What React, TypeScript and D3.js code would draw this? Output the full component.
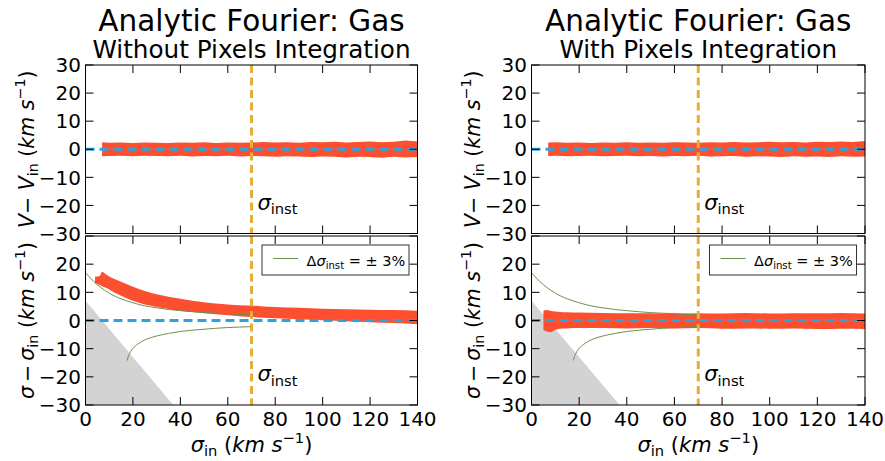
import React from "react";
import * as d3 from "d3";

// ---------- data ----------
const mainTitle = "Analytic Fourier: Gas";
const panelTitles = ["Without Pixels Integration", "With Pixels Integration"];
const xTicks = [0, 20, 40, 60, 80, 100, 120, 140];
const yTicks = [30, 20, 10, 0, -10, -20, -30];
const yTickLabelsTop = [30, 20, 10, 0, -10, -20, -30];
const yTickLabelsBottom = [20, 10, 0, -10, -20, -30];
const sigmaInst = 70;

// top panels: V - Vin scatter band (upper / lower edges)
const vBandX = [7, 10, 15, 20, 25, 30, 35, 40, 45, 50, 55, 60, 65, 70, 75, 80, 85, 90, 95, 100, 105, 110, 115, 120, 125, 130, 135, 140];
const vUpperL = [2.5, 2.3, 2.4, 2.2, 2.4, 2.3, 2.2, 2.4, 2.3, 2.5, 2.2, 2.4, 2.3, 2.4, 2.6, 2.4, 2.5, 2.3, 2.6, 2.5, 2.7, 2.4, 2.6, 2.8, 2.5, 2.7, 3.1, 2.8];
const vLowerL = [-2.5, -2.4, -2.3, -2.5, -2.3, -2.4, -2.5, -2.3, -2.6, -2.4, -2.5, -2.3, -2.6, -2.4, -2.5, -2.7, -2.5, -2.6, -2.8, -2.6, -2.7, -2.9, -2.7, -2.8, -3.0, -2.7, -2.9, -2.8];
const vUpperR = [2.4, 2.5, 2.3, 2.4, 2.2, 2.4, 2.3, 2.5, 2.3, 2.4, 2.3, 2.5, 2.4, 2.3, 2.5, 2.4, 2.6, 2.4, 2.5, 2.7, 2.5, 2.6, 2.4, 2.7, 2.6, 2.8, 2.6, 2.9];
const vLowerR = [-2.4, -2.3, -2.5, -2.4, -2.3, -2.5, -2.4, -2.3, -2.5, -2.4, -2.6, -2.4, -2.5, -2.3, -2.6, -2.5, -2.4, -2.7, -2.5, -2.6, -2.8, -2.5, -2.7, -2.6, -2.8, -2.5, -2.7, -2.6];

// bottom panels: sigma - sigma_in scatter band
const sBandXL = [4, 6, 7, 8, 10, 12, 15, 20, 25, 30, 35, 40, 45, 50, 55, 60, 65, 70, 75, 80, 90, 100, 110, 120, 130, 140];
const sUpperL = [15.5, 15.8, 17.3, 16.8, 15.6, 14.8, 13.8, 12.0, 10.5, 9.3, 8.4, 7.7, 7.0, 6.5, 6.0, 5.7, 5.4, 5.3, 5.0, 4.8, 4.5, 4.2, 4.0, 3.8, 3.7, 3.5];
const sLowerL = [13.2, 12.6, 12.2, 11.8, 11.0, 10.0, 8.8, 7.0, 5.7, 4.8, 4.1, 3.5, 3.0, 2.6, 2.2, 1.9, 1.5, 1.2, 1.0, 0.8, 0.4, 0.1, -0.3, -0.6, -0.9, -1.3];
const sBandXR = [5, 6, 8, 10, 12, 15, 20, 30, 40, 50, 60, 70, 80, 90, 100, 110, 120, 130, 140];
const sUpperR = [3.4, 3.7, 3.5, 3.2, 3.0, 2.9, 2.8, 2.7, 2.6, 2.6, 2.5, 2.6, 2.5, 2.7, 2.5, 2.6, 2.6, 2.7, 2.5];
const sLowerR = [-3.3, -3.8, -4.2, -3.3, -2.9, -2.8, -2.7, -2.7, -2.8, -2.7, -2.8, -2.7, -2.9, -2.8, -2.9, -2.8, -3.0, -2.9, -3.0];

// +/- 3% instrumental dispersion curves
const plusX = [0, 2, 5, 8, 10, 15, 20, 25, 30, 35, 40, 50, 60, 70];
const plusY = [17.0, 15.1, 12.7, 10.8, 9.7, 7.7, 6.3, 5.2, 4.5, 3.9, 3.5, 2.8, 2.4, 2.0];
const minusX = [17.6, 18, 18.5, 19, 20, 22, 25, 30, 35, 40, 50, 60, 70];
const minusY = [-14.2, -12.9, -11.9, -11.1, -9.9, -8.4, -6.9, -5.5, -4.6, -3.9, -3.1, -2.5, -2.2];

// grey excluded region
const grayX = [0, 0, 37];
const grayY = [7, -30, -30];

// ---------- style ----------
const C_RED = "#fc4f30";
const C_BLUE = "#30a2da";
const C_ORANGE = "#e5ae38";
const C_GREEN = "#6d904f";
const C_GRAY = "#d3d3d3";
const FONT = "DejaVu Sans";
const THIN = "\u2009";

type Seg = { t: string; it?: boolean; sub?: boolean; sup?: boolean };

function MathText(props: { x: number; y: number; fs: number; segs: Seg[]; anchor?: string; transform?: string }) {
  const { x, y, fs, segs, anchor, transform } = props;
  let shift = 0;
  const spans = segs.map((s, i) => {
    const target = s.sub ? fs * 0.22 : s.sup ? -fs * 0.4 : 0;
    const dy = target - shift;
    shift = target;
    return (
      <tspan key={i} dy={dy} fontStyle={s.it ? "italic" : "normal"} fontSize={s.sub || s.sup ? fs * 0.7 : fs}>
        {s.t}
      </tspan>
    );
  });
  return (
    <text x={x} y={y} fontSize={fs} textAnchor={anchor || "start"} transform={transform} style={{ whiteSpace: "pre" }} fill="#000">
      {spans}
    </text>
  );
}

const unitSegs: Seg[] = [
  { t: " (" },
  { t: "km", it: true },
  { t: " " },
  { t: "s", it: true },
  { t: "−1", sup: true },
  { t: ")" },
];

const panelsX = [
  { x0: 85.5, x1: 417.5 },
  { x0: 531.5, x1: 865 },
];
const topY = { y0: 65, y1: 233.5 };
const botY = { y0: 236, y1: 405 };

function Axes(props: {
  x: d3.ScaleLinear<number, number>;
  y: d3.ScaleLinear<number, number>;
  xLabels: boolean;
  yLabels: number[];
}) {
  const { x, y, xLabels, yLabels } = props;
  const [x0, x1] = x.range();
  const [yb, yt] = y.range();
  const L = 8;
  return (
    <g>
      {xTicks.map((t) => (
        <g key={"xt" + t}>
          <line x1={x(t)} x2={x(t)} y1={yb} y2={yb - L} stroke="#000" strokeWidth={1} />
          <line x1={x(t)} x2={x(t)} y1={yt} y2={yt + L} stroke="#000" strokeWidth={1} />
          {xLabels && (
            <text x={x(t)} y={yb + 21.3} fontSize={20} textAnchor="middle" fill="#000">
              {String(t)}
            </text>
          )}
        </g>
      ))}
      {yTicks.map((t) => (
        <g key={"yt" + t}>
          <line x1={x0} x2={x0 + L} y1={y(t)} y2={y(t)} stroke="#000" strokeWidth={1} />
          <line x1={x1} x2={x1 - L} y1={y(t)} y2={y(t)} stroke="#000" strokeWidth={1} />
        </g>
      ))}
      {yLabels.map((t) => (
        <text key={"yl" + t} x={x0 - 4.5} y={y(t) + 7.2} fontSize={20} textAnchor="end" fill="#000">
          {t < 0 ? "−" + Math.abs(t) : String(t)}
        </text>
      ))}
      <rect x={x0} y={yt} width={x1 - x0} height={yb - yt} fill="none" stroke="#000" strokeWidth={1} />
    </g>
  );
}

function Panel(props: { idx: number }) {
  const { idx } = props;
  const { x0, x1 } = panelsX[idx];
  const x = d3.scaleLinear().domain([0, 140]).range([x0, x1]);
  const yT = d3.scaleLinear().domain([-30, 30]).range([topY.y1, topY.y0]);
  const yB = d3.scaleLinear().domain([-30, 30]).range([botY.y1, botY.y0]);
  const cx = (x0 + x1) / 2;

  const vX = vBandX;
  const vU = idx === 0 ? vUpperL : vUpperR;
  const vL = idx === 0 ? vLowerL : vLowerR;
  const sX = idx === 0 ? sBandXL : sBandXR;
  const sU = idx === 0 ? sUpperL : sUpperR;
  const sL = idx === 0 ? sLowerL : sLowerR;

  const areaT = d3
    .area<number>()
    .x((d, i) => x(vX[i]))
    .y0((d, i) => yT(vL[i]))
    .y1((d, i) => yT(vU[i]))
    .curve(d3.curveLinear);
  const areaB = d3
    .area<number>()
    .x((d, i) => x(sX[i]))
    .y0((d, i) => yB(sL[i]))
    .y1((d, i) => yB(sU[i]))
    .curve(d3.curveMonotoneX);
  const lineB = (xs: number[], ys: number[]) =>
    d3
      .line<number>()
      .x((d, i) => x(xs[i]))
      .y((d, i) => yB(ys[i]))
      .curve(d3.curveMonotoneX)(xs) || "";
  const grayPath =
    d3
      .line<number>()
      .x((d, i) => x(grayX[i]))
      .y((d, i) => yB(grayY[i]))(grayX) + "Z";

  const clipT = "clipT" + idx;
  const clipB = "clipB" + idx;
  const legX = x1 - 155.5;
  const legY = botY.y0 + 9;
  const ylx = x0 - 52;

  return (
    <g>
      <defs>
        <clipPath id={clipT}>
          <rect x={x0} y={topY.y0} width={x1 - x0} height={topY.y1 - topY.y0} />
        </clipPath>
        <clipPath id={clipB}>
          <rect x={x0} y={botY.y0} width={x1 - x0} height={botY.y1 - botY.y0} />
        </clipPath>
      </defs>
      {/* titles */}
      <text x={cx} y={31} fontSize={29.5} textAnchor="middle" fill="#000">
        {mainTitle}
      </text>
      <text x={cx} y={58} fontSize={24.7} textAnchor="middle" fill="#000">
        {panelTitles[idx]}
      </text>

      {/* top panel */}
      <g clipPath={`url(#${clipT})`}>
        <path d={areaT(vX) || ""} fill={C_RED} />
        <line x1={x(0)} x2={x(140)} y1={yT(0)} y2={yT(0)} stroke={C_BLUE} strokeWidth={3} strokeDasharray="9,5" />
        <line x1={x(sigmaInst)} x2={x(sigmaInst)} y1={topY.y0} y2={topY.y1} stroke={C_ORANGE} strokeWidth={3} strokeDasharray="8,4.5" />
      </g>
      <MathText x={x(72.5)} y={yT(-21.5)} fs={21} segs={[{ t: "σ", it: true }, { t: "inst", sub: true }]} />
      <Axes x={x} y={yT} xLabels={false} yLabels={yTickLabelsTop} />

      {/* bottom panel */}
      <g clipPath={`url(#${clipB})`}>
        <path d={grayPath} fill={C_GRAY} />
        <path d={areaB(sX) || ""} fill={C_RED} />
        <path d={lineB(plusX, plusY)} fill="none" stroke={C_GREEN} strokeWidth={1} />
        <path d={lineB(minusX, minusY)} fill="none" stroke={C_GREEN} strokeWidth={1} />
        <line x1={x(0)} x2={x(140)} y1={yB(0)} y2={yB(0)} stroke={C_BLUE} strokeWidth={3} strokeDasharray="9,5" />
        <line x1={x(sigmaInst)} x2={x(sigmaInst)} y1={botY.y0} y2={botY.y1} stroke={C_ORANGE} strokeWidth={3} strokeDasharray="8,4.5" />
      </g>
      <MathText x={x(72.5)} y={yB(-21.5)} fs={21} segs={[{ t: "σ", it: true }, { t: "inst", sub: true }]} />
      <Axes x={x} y={yB} xLabels={true} yLabels={yTickLabelsBottom} />

      {/* legend */}
      <rect x={legX} y={legY} width={147} height={30} fill="#fff" stroke="#333" strokeWidth={1} />
      <line x1={legX + 11} x2={legX + 36} y1={legY + 13.5} y2={legY + 13.5} stroke={C_GREEN} strokeWidth={1} />
      <MathText
        x={legX + 44.5}
        y={legY + 21}
        fs={14.5}
        segs={[{ t: "Δ" }, { t: "σ", it: true }, { t: "inst", sub: true }, { t: " = ± 3%" }]}
      />

      {/* axis labels */}
      <MathText x={cx} y={451.5} fs={21} anchor="middle" segs={[{ t: "σ", it: true }, { t: "in", sub: true }, ...unitSegs]} />
      <MathText
        x={0}
        y={0}
        fs={20.5}
        anchor="middle"
        transform={`translate(${ylx},${(topY.y0 + topY.y1) / 2}) rotate(-90)`}
        segs={[{ t: "V", it: true }, { t: "− " }, { t: "V", it: true }, { t: "in", sub: true }, ...unitSegs]}
      />
      <MathText
        x={0}
        y={0}
        fs={20.5}
        anchor="middle"
        transform={`translate(${ylx},${(botY.y0 + botY.y1) / 2}) rotate(-90)`}
        segs={[{ t: "σ", it: true }, { t: THIN + "−" + THIN }, { t: "σ", it: true }, { t: "in", sub: true }, ...unitSegs]}
      />
    </g>
  );
}

export default function App() {
  return (
    <svg
      width={885}
      height={461}
      style={{ position: "absolute", left: 0, top: 0, background: "#fff" }}
      fontFamily={FONT}
    >
      <rect x={0} y={0} width={885} height={461} fill="#fff" />
      <Panel idx={0} />
      <Panel idx={1} />
    </svg>
  );
}
